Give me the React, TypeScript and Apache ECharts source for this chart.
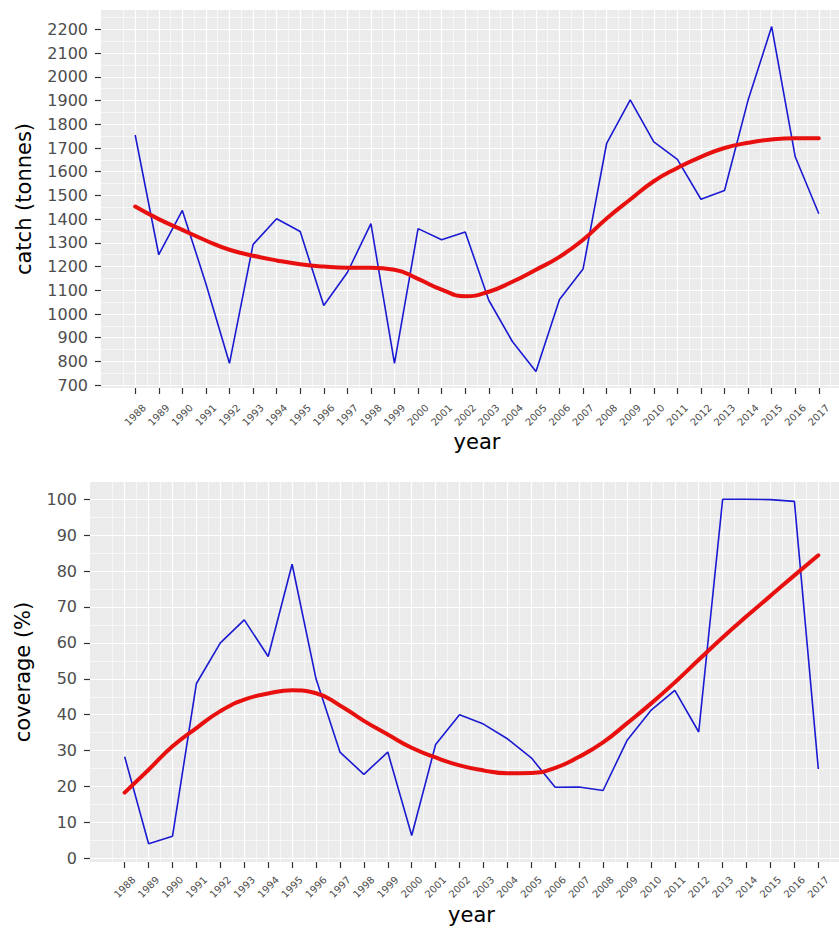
import React, { useEffect, useRef } from "react";
import * as echarts from "echarts";

// Years on both panels
const years = [
  1988, 1989, 1990, 1991, 1992, 1993, 1994, 1995, 1996, 1997,
  1998, 1999, 2000, 2001, 2002, 2003, 2004, 2005, 2006, 2007,
  2008, 2009, 2010, 2011, 2012, 2013, 2014, 2015, 2016, 2017,
];

// Annual catch (tonnes)
const catchTonnes = [
  1755, 1250, 1437, 1128, 792, 1293, 1402, 1348, 1036, 1175,
  1381, 792, 1360, 1313, 1346, 1058, 884, 758, 1061, 1190,
  1720, 1903, 1726, 1652, 1484, 1521, 1902, 2212, 1663, 1423,
];

// Smoothed catch trend
const catchTrend = [
  1453, 1400, 1355, 1310, 1271, 1246, 1226, 1210, 1200, 1195,
  1195, 1187, 1148, 1103, 1075, 1094, 1136, 1187, 1241, 1313,
  1403, 1483, 1560, 1616, 1663, 1700, 1722, 1736, 1741, 1741,
];

// Observer coverage (%)
const coveragePct = [
  28.3, 4.1, 6.2, 48.7, 60.0, 66.4, 56.2, 81.9, 50.0, 29.6,
  23.4, 29.6, 6.4, 31.7, 40.0, 37.4, 33.3, 28.0, 19.8, 19.9,
  18.9, 32.8, 41.2, 46.8, 35.2, 100.0, 100.0, 99.9, 99.4, 24.9,
];

// Smoothed coverage trend
const coverageTrend = [
  18.3, 24.7, 31.2, 36.3, 41.0, 44.2, 45.9, 46.8, 46.0, 42.6,
  38.3, 34.5, 30.8, 28.1, 25.9, 24.5, 23.7, 23.8, 25.2, 28.3,
  32.3, 37.6, 43.1, 49.0, 55.3, 61.5, 67.4, 73.1, 78.8, 84.4,
];

// Tick labels
const catchTicks = [
  700, 800, 900, 1000, 1100, 1200, 1300, 1400, 1500, 1600, 1700,
  1800, 1900, 2000, 2100, 2200,
];
const coverageTicks = [0, 10, 20, 30, 40, 50, 60, 70, 80, 90, 100];

// Minor grid positions, half way between the major breaks
const yearMinor = [years[0] - 0.5, ...years.map((y) => y + 0.5)];
const catchMinor = catchTicks.map((v) => v + 50);
const coverageMinor = coverageTicks.slice(0, -1).map((v) => v + 5);

const FONT = "DejaVu Sans";
const PANEL_BG = "#EBEBEB";
const TICK_COLOR = "#333333";
const LABEL_COLOR = "#4D4D4D";

const pairs = (vals: number[]) => years.map((y, i) => [y, vals[i]]);

function minorX(gridIndex: number) {
  return {
    gridIndex,
    type: "value",
    position: "bottom",
    min: 1986.55,
    max: 2018.45,
    axisLine: { show: false, onZero: false },
    axisTick: { show: false, customValues: yearMinor },
    axisLabel: { show: false, customValues: yearMinor },
    splitLine: { show: true, lineStyle: { color: "#ffffff", width: 0.6 } },
  };
}

function majorX(gridIndex: number, labelMargin: number, nameGap: number) {
  return {
    gridIndex,
    type: "value",
    position: "bottom",
    min: 1986.55,
    max: 2018.45,
    axisLine: { show: false, onZero: false },
    axisTick: {
      show: true,
      customValues: years,
      length: 6,
      lineStyle: { color: TICK_COLOR, width: 1.2 },
    },
    axisLabel: {
      customValues: years,
      rotate: 45,
      align: "center",
      verticalAlign: "middle",
      margin: labelMargin,
      fontSize: 10,
      fontFamily: FONT,
      color: LABEL_COLOR,
      formatter: (v: number) => String(v),
    },
    splitLine: { show: true, lineStyle: { color: "#ffffff", width: 1.2 } },
    name: "year",
    nameLocation: "middle",
    nameGap,
    nameTextStyle: { fontSize: 21, fontFamily: FONT, color: "#000000" },
  };
}

function minorY(gridIndex: number, min: number, max: number, vals: number[]) {
  return {
    gridIndex,
    type: "value",
    position: "left",
    min,
    max,
    axisLine: { show: false, onZero: false },
    axisTick: { show: false, customValues: vals },
    axisLabel: { show: false, customValues: vals },
    splitLine: { show: true, lineStyle: { color: "#ffffff", width: 0.6 } },
  };
}

function majorY(
  gridIndex: number,
  min: number,
  max: number,
  ticks: number[],
  name: string,
  nameGap: number
) {
  return {
    gridIndex,
    type: "value",
    position: "left",
    min,
    max,
    axisLine: { show: false, onZero: false },
    axisTick: {
      show: true,
      customValues: ticks,
      length: 6,
      lineStyle: { color: TICK_COLOR, width: 1.2 },
    },
    axisLabel: {
      customValues: ticks,
      margin: 13,
      fontSize: 16,
      fontFamily: FONT,
      color: LABEL_COLOR,
      formatter: (v: number) => String(v),
    },
    splitLine: { show: true, lineStyle: { color: "#ffffff", width: 1.2 } },
    name,
    nameLocation: "middle",
    nameRotate: 90,
    nameGap,
    nameTextStyle: { fontSize: 21, fontFamily: FONT, color: "#000000" },
  };
}

function rawLine(xAxisIndex: number, yAxisIndex: number, vals: number[]) {
  return {
    type: "line",
    xAxisIndex,
    yAxisIndex,
    data: pairs(vals),
    showSymbol: false,
    symbol: "none",
    lineStyle: { color: "#1a1ad2", width: 1.6 },
    z: 3,
  };
}

function trendLine(xAxisIndex: number, yAxisIndex: number, vals: number[]) {
  return {
    type: "line",
    xAxisIndex,
    yAxisIndex,
    data: pairs(vals),
    smooth: 0.5,
    showSymbol: false,
    symbol: "none",
    lineStyle: { color: "#e8100e", width: 4, cap: "round" },
    z: 4,
  };
}

export default function App() {
  const ref = useRef<HTMLDivElement>(null);

  useEffect(() => {
    if (!ref.current) return;
    const chart = echarts.init(ref.current, undefined, { renderer: "svg" });
    chart.setOption({
      animation: false,
      backgroundColor: "#ffffff",
      textStyle: { fontFamily: FONT },
      grid: [
        {
          left: 101,
          top: 10,
          width: 752,
          height: 378,
          show: true,
          backgroundColor: PANEL_BG,
          borderWidth: 0,
          containLabel: false,
          outerBoundsMode: "none",
        },
        {
          left: 90,
          top: 482,
          width: 763,
          height: 380,
          show: true,
          backgroundColor: PANEL_BG,
          borderWidth: 0,
          containLabel: false,
          outerBoundsMode: "none",
        },
      ],
      xAxis: [minorX(0), majorX(0, 27, 43), minorX(1), majorX(1, 25, 42)],
      yAxis: [
        minorY(0, 688, 2282, catchMinor),
        majorY(0, 688, 2282, catchTicks, "catch (tonnes)", 67),
        minorY(1, -1, 104.8, coverageMinor),
        majorY(1, -1, 104.8, coverageTicks, "coverage (%)", 57),
      ],
      series: [
        rawLine(1, 1, catchTonnes),
        trendLine(1, 1, catchTrend),
        rawLine(3, 3, coveragePct),
        trendLine(3, 3, coverageTrend),
      ],
    });
    return () => chart.dispose();
  }, []);

  return (
    <div
      style={{
        position: "fixed",
        left: 0,
        top: 0,
        width: 839,
        height: 931,
        overflow: "hidden",
        background: "#ffffff",
      }}
    >
      <div ref={ref} style={{ width: 880, height: 931 }} />
    </div>
  );
}
